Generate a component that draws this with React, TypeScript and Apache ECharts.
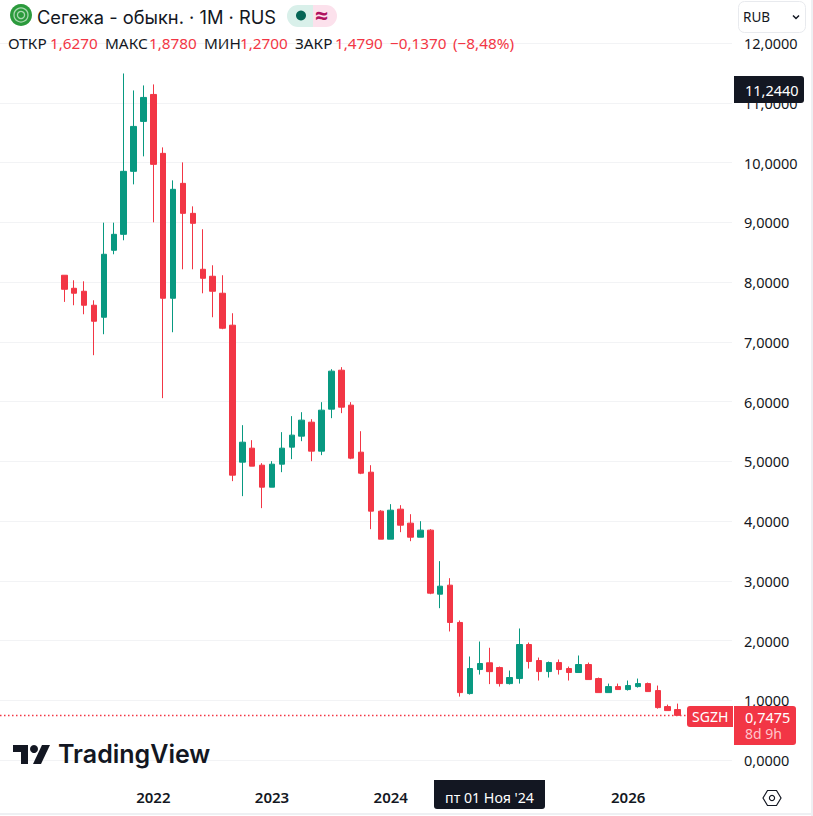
import React, { useEffect, useRef } from "react";
import * as echarts from "echarts";

const categories = [
  "2020-10","2020-11","2020-12",
  "2021-01","2021-02","2021-03","2021-04","2021-05","2021-06","2021-07","2021-08","2021-09","2021-10","2021-11","2021-12",
  "2022-01","2022-02","2022-03","2022-04","2022-05","2022-06","2022-07","2022-08","2022-09","2022-10","2022-11","2022-12",
  "2023-01","2023-02","2023-03","2023-04","2023-05","2023-06","2023-07","2023-08","2023-09","2023-10","2023-11","2023-12",
  "2024-01","2024-02","2024-03","2024-04","2024-05","2024-06","2024-07","2024-08","2024-09","2024-10","2024-11","2024-12",
  "2025-01","2025-02","2025-03","2025-04","2025-05","2025-06","2025-07","2025-08","2025-09","2025-10","2025-11","2025-12",
  "2026-01","2026-02","2026-03","2026-04","2026-05","2026-06","2026-07","2026-08","2026-09","2026-10","2026-11",
];
const yearTicks = ["2022-01", "2023-01", "2024-01", "2026-01"];
const priceTicks = [0, 1, 2, 3, 4, 5, 6, 7, 8, 9, 10, 11, 12];
const leadingBlanks = 6;

const opens = [
  8.113,7.895,7.845,7.611,7.41,8.531,8.798,9.852,10.688,11.139,10.153,7.728,9.651,9.149,8.213,8.096,7.812,7.277,
  4.985,5.219,4.934,4.566,4.951,5.236,5.42,5.654,5.169,5.872,6.524,5.939,5.152,4.817,4.165,3.696,4.198,3.964,3.729,3.847,2.775,2.926,
  2.302,1.112,1.514,1.627,1.547,1.279,1.363,1.933,1.665,1.48,1.631,1.531,1.464,1.598,1.363,1.128,1.229,1.179,1.229,1.279,1.162,0.894,0.844,
];
const closes = [
  7.878,7.812,7.611,7.343,8.464,8.798,9.852,10.604,11.089,9.969,7.728,9.551,9.149,8.982,8.062,7.845,7.226,4.767,
  5.319,4.918,4.566,4.951,5.219,5.437,5.688,5.169,5.855,6.508,5.905,5.052,4.8,4.165,3.696,4.181,3.93,3.729,3.847,2.792,2.909,2.302,
  1.128,1.531,1.615,1.479,1.279,1.38,1.933,1.648,1.48,1.631,1.514,1.464,1.598,1.346,1.128,1.229,1.179,1.246,1.279,1.145,0.877,0.827,0.7475,
];
const lows = [
  7.667,7.611,7.46,6.775,7.126,8.464,8.698,9.634,10.103,8.999,6.056,7.159,8.213,8.213,7.811,7.41,7.21,4.667,
  4.416,4.918,4.215,4.566,4.817,5.035,5.336,5.001,5.102,5.721,5.805,5.035,4.784,3.863,3.696,3.696,3.813,3.662,3.729,2.775,2.541,2.151,
  1.061,1.095,1.43,1.27,1.229,1.263,1.279,1.531,1.33,1.38,1.43,1.33,1.464,1.346,1.128,1.128,1.179,1.162,1.212,1.145,0.86,0.827,0.7475,
];
const highs = [
  8.113,8.029,8.012,7.694,8.993,8.993,11.49,11.206,11.29,11.307,10.253,9.701,10.002,9.266,8.883,8.28,8.113,7.477,
  5.604,5.353,4.968,5.001,5.487,5.755,5.821,5.704,5.989,6.541,6.575,5.989,5.503,4.934,4.181,4.282,4.265,4.114,3.997,3.863,3.328,3.043,
  2.335,1.732,1.983,1.878,1.564,1.497,2.201,1.966,1.715,1.648,1.682,1.564,1.749,1.631,1.38,1.279,1.279,1.33,1.363,1.296,1.246,0.927,0.944,
];
const lastPrice = 0.7475;

const UP = "#089981";
const DOWN = "#F23645";
const INK = "#131722";
const FONT = "'Noto Sans', 'Open Sans', sans-serif";

const fmtPrice = (v: number) => v.toFixed(4).replace(".", ",");

const ohlcRow: Array<[string, number, string]> = [
  ["ОТКР", 8, INK], ["1,6270", 50, DOWN],
  ["МАКС", 105, INK], ["1,8780", 149, DOWN],
  ["МИН", 204, INK], ["1,2700", 240, DOWN],
  ["ЗАКР", 295, INK], ["1,4790", 335, DOWN],
  ["−0,1370", 390, DOWN], ["(−8,48%)", 453, DOWN],
];

function txt(text: string, x: number, y: number, fontSize: number, fill: string, extra: any = {}) {
  return {
    type: "text", x, y, z: 100, silent: true,
    style: { text, fontSize, fill, fontFamily: FONT, textVerticalAlign: "middle", verticalAlign: "middle", ...extra },
  };
}

export default function App() {
  const ref = useRef<HTMLDivElement>(null);
  useEffect(() => {
    document.body.style.margin = "0";
    document.body.style.background = "#fff";
    const chart = echarts.init(ref.current!, undefined, { renderer: "svg" });
    const blanks = categories.slice(0, leadingBlanks).map(() => ["-", "-", "-", "-"]);
    const candles = opens.map((o, i) => [o, closes[i], lows[i], highs[i]]);
    chart.setOption({
      animation: false,
      backgroundColor: "#ffffff",
      grid: { left: 0, top: 43, width: 732, bottom: 56 },
      xAxis: {
        type: "category",
        data: categories,
        boundaryGap: true,
        axisLine: { show: false },
        axisTick: { show: false },
        splitLine: { show: false },
        axisLabel: {
          interval: (_: number, v: string) => yearTicks.includes(v),
          formatter: (v: string) => v.slice(0, 4),
          margin: 29,
          fontFamily: FONT,
          fontSize: 15,
          fontWeight: 600,
          color: INK,
        },
      },
      yAxis: {
        type: "value",
        position: "right",
        min: priceTicks[0],
        max: priceTicks[priceTicks.length - 1],
        interval: 1,
        axisLine: { show: false },
        axisTick: { show: false },
        splitLine: { show: true, lineStyle: { color: "#F2F3F5", width: 1 } },
        axisLabel: {
          margin: 12,
          align: "left",
          fontFamily: FONT,
          fontSize: 14.5,
          color: INK,
          padding: [0, 0, 2, 0],
          formatter: fmtPrice,
        },
      },
      series: [
        {
          type: "candlestick",
          data: [...blanks, ...candles],
          barWidth: 6,
          clip: false,
          itemStyle: { color: UP, color0: DOWN, borderColor: UP, borderColor0: DOWN, borderWidth: 1 },
          markLine: {
            silent: true,
            symbol: "none",
            label: { show: false },
            data: [{ yAxis: lastPrice }],
            lineStyle: { color: DOWN, type: [1.5, 2.5], width: 1.4 },
          },
        },
      ],
      graphic: [
        // page edges
        { type: "rect", z: 99, silent: true, shape: { x: 811, y: 0, width: 2, height: 816 }, style: { fill: "#EEF0F3" } },
        { type: "rect", z: 99, silent: true, shape: { x: 0, y: 813, width: 813, height: 2 }, style: { fill: "#EEF0F3" } },
        // company logo
        { type: "circle", z: 100, silent: true, shape: { cx: 21, cy: 15, r: 11 }, style: { fill: "#2B9A3C" } },
        { type: "circle", z: 101, silent: true, shape: { cx: 21, cy: 15, r: 7 }, style: { fill: "none", stroke: "#A9D8B0", lineWidth: 1.3 } },
        { type: "circle", z: 101, silent: true, shape: { cx: 21, cy: 15, r: 3.6 }, style: { fill: "none", stroke: "#A9D8B0", lineWidth: 1.3 } },
        // title
        {
          type: "text", x: 37, y: 16.5, z: 100, silent: true,
          style: { text: "Сегежа - обыкн. · 1М · RUS", fontSize: 18.3, fill: INK, fontFamily: "Inter, 'Noto Sans', sans-serif", textVerticalAlign: "middle", verticalAlign: "middle" },
        },
        // status pills
        { type: "rect", z: 100, silent: true, shape: { x: 287, y: 5, width: 26, height: 22, r: [11, 0, 0, 11] }, style: { fill: "#D9F0EA" } },
        { type: "rect", z: 100, silent: true, shape: { x: 313, y: 5, width: 24, height: 22, r: [0, 11, 11, 0] }, style: { fill: "#FCE1EC" } },
        { type: "circle", z: 101, silent: true, shape: { cx: 301, cy: 15.5, r: 5 }, style: { fill: "#056656" } },
        txt("≈", 315, 15, 23, "#B0125F", { fontWeight: 700 }),
        // OHLC row
        ...ohlcRow.map(([t, x, c]) => txt(t, x, 43, 15.3, c)),
        // currency selector
        { type: "rect", z: 100, silent: true, shape: { x: 738.5, y: 1.5, width: 67, height: 31, r: 6 }, style: { fill: "#fff", stroke: "#E8EAEE", lineWidth: 1 } },
        txt("RUB", 743, 17, 13.5, INK),
        { type: "polyline", z: 101, silent: true, shape: { points: [[793, 15.5], [796, 18.5], [799, 15.5]] }, style: { fill: "none", stroke: INK, lineWidth: 1.5 } },
        // crosshair price
        { type: "rect", z: 100, silent: true, shape: { x: 734, y: 76, width: 70, height: 27, r: [0, 3, 3, 0] }, style: { fill: INK } },
        txt("11,2440", 745, 89.5, 14.5, "#ffffff"),
        // last price tags
        { type: "rect", z: 100, silent: true, shape: { x: 687, y: 706, width: 46, height: 21, r: [3, 0, 0, 3] }, style: { fill: DOWN } },
        txt("SGZH", 692, 716.5, 14, "#ffffff"),
        { type: "rect", z: 100, silent: true, shape: { x: 734, y: 706, width: 62, height: 39, r: [0, 3, 3, 0] }, style: { fill: DOWN } },
        txt("0,7475", 745, 716.5, 14.5, "#ffffff"),
        txt("8d 9h", 745, 733.5, 14, "#FFC4CA"),
        // crosshair date
        { type: "rect", z: 100, silent: true, shape: { x: 434, y: 780, width: 111, height: 29, r: [0, 0, 3, 3] }, style: { fill: INK } },
        txt("пт 01 Ноя '24", 489.5, 797, 14.2, "#ffffff", { textAlign: "center", align: "center" }),
        // settings hexagon
        { type: "polygon", z: 100, silent: true, shape: { points: [[763, 798], [767.5, 790.5], [776.5, 790.5], [781, 798], [776.5, 805.5], [767.5, 805.5]] }, style: { fill: "none", stroke: INK, lineWidth: 1.2 } },
        { type: "circle", z: 100, silent: true, shape: { cx: 772, cy: 798, r: 2.6 }, style: { fill: "none", stroke: INK, lineWidth: 1.2 } },
        // TradingView mark
        { type: "polygon", z: 100, silent: true, shape: { points: [[13, 745], [28, 745], [28, 764], [21, 764], [21, 752], [13, 752]] }, style: { fill: INK } },
        { type: "circle", z: 100, silent: true, shape: { cx: 34, cy: 749, r: 4 }, style: { fill: INK } },
        { type: "polygon", z: 100, silent: true, shape: { points: [[42, 745], [50, 745], [41, 764], [33, 764]] }, style: { fill: INK } },
        {
          type: "text", x: 58, y: 754, z: 100, silent: true,
          style: { text: "TradingView", fontSize: 25, fontWeight: 600, fill: INK, fontFamily: "Inter, 'Noto Sans', sans-serif", textVerticalAlign: "middle", verticalAlign: "middle" },
        },
      ],
    });
    return () => chart.dispose();
  }, []);
  return <div ref={ref} style={{ position: "fixed", left: 0, top: 0, width: 813, height: 816 }} />;
}
